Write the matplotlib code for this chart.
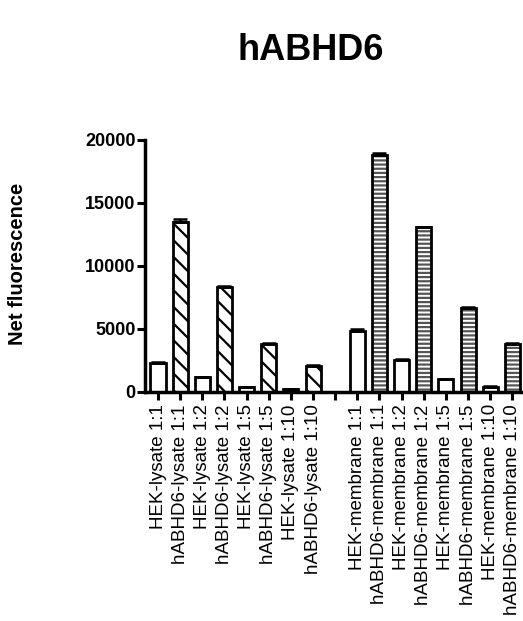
import matplotlib
matplotlib.use("Agg")
import matplotlib.pyplot as plt
import numpy as np

plt.rcParams['font.family'] = ['Liberation Sans', 'DejaVu Sans']
plt.rcParams['hatch.linewidth'] = 1.6

# Sample groups (slot 8 is an empty gap between lysate and membrane)
labels = [
    "HEK-lysate 1:1", "hABHD6-lysate 1:1", "HEK-lysate 1:2", "hABHD6-lysate 1:2",
    "HEK-lysate 1:5", "hABHD6-lysate 1:5", "HEK-lysate 1:10", "hABHD6-lysate 1:10",
    "",
    "HEK-membrane 1:1", "hABHD6-membrane 1:1", "HEK-membrane 1:2", "hABHD6-membrane 1:2",
    "HEK-membrane 1:5", "hABHD6-membrane 1:5", "HEK-membrane 1:10", "hABHD6-membrane 1:10",
]
values = [2320, 13500, 1150, 8300, 350, 3770, 190, 2050,
          np.nan,
          4830, 18800, 2520, 13050, 985, 6690, 400, 3770]
errors = [60, 200, 50, 80, 40, 60, 30, 70,
          np.nan,
          180, 150, 60, 60, 50, 60, 40, 60]
kinds = ["hek", "lys", "hek", "lys", "hek", "lys", "hek", "lys",
         "none",
         "hek", "mem", "hek", "mem", "hek", "mem", "hek", "mem"]

fig = plt.figure(figsize=(5.23, 6.21), dpi=100)
ax = fig.add_axes([145/523, (621-391.7)/621, 1 - 145/523, (391.7-140)/621])

x = np.arange(len(labels))
width = 0.68
for xi, v, e, k in zip(x, values, errors, kinds):
    if k == "none":
        continue
    if k == "hek":
        ax.bar(xi, v, width, color="white", edgecolor="black", linewidth=2, zorder=2)
    elif k == "lys":
        ax.bar(xi, v, width, color="white", edgecolor="black", hatch="\\\\",
               linewidth=2, zorder=2)
    else:
        ax.bar(xi, v, width, color="white", edgecolor="#555555", hatch="----",
               linewidth=0, zorder=2)
        ax.bar(xi, v, width, color="none", edgecolor="black", linewidth=2, zorder=3)
    ax.errorbar(xi, v, yerr=[[0], [e]], fmt="none", ecolor="black",
                elinewidth=1.8, capsize=5, capthick=1.8, zorder=4)

ax.set_xlim(-0.587, 16.48)
ax.set_ylim(0, 20000)
ax.set_yticks([0, 5000, 10000, 15000, 20000])
ax.set_yticklabels(["0", "5000", "10000", "15000", "20000"],
                   fontsize=13, fontweight="bold")
ax.set_xticks(x)
ax.set_xticklabels(labels, rotation=90, fontsize=13.5, va="top", ha="center")

for s in ["top", "right"]:
    ax.spines[s].set_visible(False)
for s in ["left", "bottom"]:
    ax.spines[s].set_linewidth(2.5)
ax.tick_params(axis="both", direction="out", length=6, width=2.2)
ax.tick_params(axis="y", pad=0.8)
ax.tick_params(axis="x", pad=3)

fig.text(18/523, (621-264)/621, "Net fluorescence", rotation=90,
         ha="center", va="center", fontsize=14.5, fontweight="bold")
fig.text(311/523, (621-50)/621, "hABHD6", ha="center", va="center",
         fontsize=26, fontweight="bold")

fig.savefig("out.png", dpi=100)
